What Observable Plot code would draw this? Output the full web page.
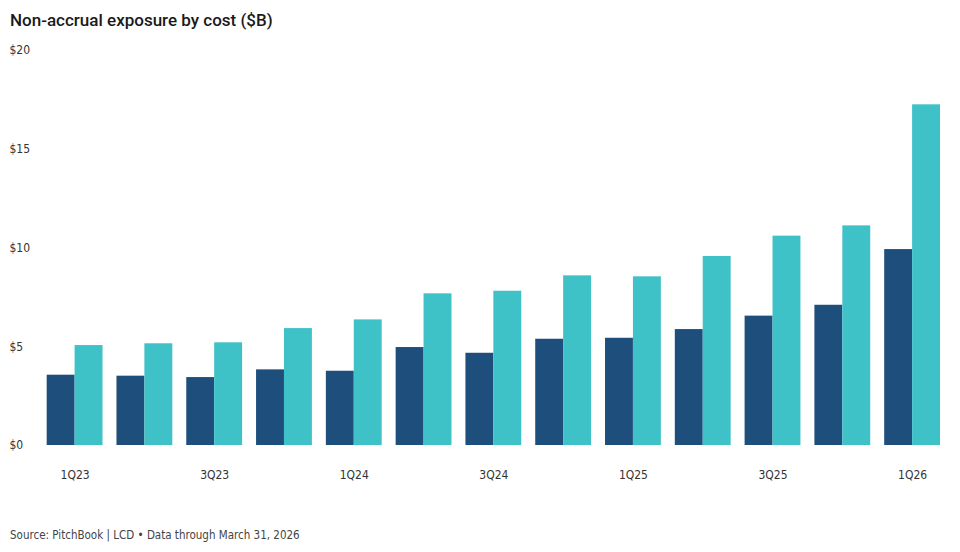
<!DOCTYPE html>
<html>
<head>
<meta charset="utf-8">
<script src="https://cdn.jsdelivr.net/npm/d3@7"></script>
<script src="https://cdn.jsdelivr.net/npm/@observablehq/plot@0.6"></script>
<style>
  html, body { margin: 0; padding: 0; background: #fff; }
  body { width: 960px; height: 552px; overflow: hidden; position: relative; }
  #title { position: absolute; left: 10px; top: 9px; font-family: Roboto, "Noto Sans", sans-serif; font-weight: 500; font-size: 17px; color: #1a1a1a; line-height: 22px; }
  #chart { position: absolute; left: 0; top: 40px; }
  #caption { position: absolute; left: 10px; top: 527px; font-family: "Liberation Sans Narrow", "DejaVu Sans Condensed", Roboto, sans-serif; font-stretch: condensed; font-size: 11.5px; color: #444; line-height: 16px; }
</style>
</head>
<body>
<div id="title">Non-accrual exposure by cost ($B)</div>
<div id="chart"></div>
<div id="caption">Source: PitchBook | LCD • Data through March 31, 2026</div>
<script>
const quarters = ["1Q23","2Q23","3Q23","4Q23","1Q24","2Q24","3Q24","4Q24","1Q25","2Q25","3Q25","4Q25","1Q26"];
const seriesNames = ["Series A", "Series B"];
const seriesA = [3.56, 3.51, 3.44, 3.83, 3.76, 4.96, 4.67, 5.38, 5.43, 5.87, 6.55, 7.10, 9.92];
const seriesB = [5.06, 5.15, 5.20, 5.92, 6.36, 7.68, 7.81, 8.59, 8.54, 9.57, 10.60, 11.12, 17.25];
const yTicks = [0, 5, 10, 15, 20];
const colors = ["#1e4e7c", "#3fc1c8"];

const data = [];
quarters.forEach((q, i) => {
  data.push({quarter: q, series: seriesNames[0], value: seriesA[i]});
  data.push({quarter: q, series: seriesNames[1], value: seriesB[i]});
});

const font = '"Liberation Sans Narrow", "DejaVu Sans Condensed", Roboto, sans-serif';

const plot = Plot.plot({
  width: 960,
  height: 470,
  marginLeft: 39.7,
  marginRight: 13,
  marginTop: 10,
  marginBottom: 65,
  style: {fontFamily: font, fontSize: "12px", color: "#333", background: "#fff"},
  fx: {
    domain: quarters,
    paddingInner: 0.2,
    paddingOuter: 0.1,
    round: false,
    label: null,
    axis: "bottom",
    tickSize: 0,
    tickPadding: 25,
    tickFormat: (d) => (quarters.indexOf(d) % 2 === 0 ? d : "")
  },
  x: {domain: seriesNames, padding: 0, round: false, axis: null},
  y: {domain: [0, 20], axis: null},
  color: {domain: seriesNames, range: colors},
  marks: [
    Plot.barY(data, {fx: "quarter", x: "series", y: "value", fill: "series", inset: 0}),
    Plot.axisY({
      ticks: yTicks,
      tickSize: 0,
      tickPadding: 3,
      textAnchor: "start",
      dx: -34.7,
      label: null,
      tickFormat: (d) => "$" + d,
      facetAnchor: "left",
      fontSize: 12
    })
  ]
});
document.getElementById("chart").appendChild(plot);
</script>
</body>
</html>
